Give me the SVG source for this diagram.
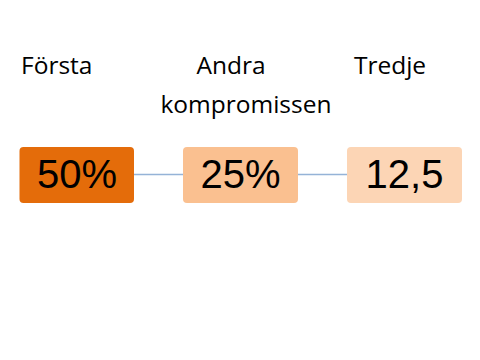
<svg xmlns="http://www.w3.org/2000/svg" width="480" height="360" viewBox="0 0 480 360">
<style>
.lbl{font-family:"Open Sans","Liberation Sans",Arial,sans-serif;font-size:24.5px;fill:#000}
.num{font-family:"Liberation Sans",Arial,sans-serif;font-size:40px;fill:#000;text-anchor:middle}
.conn{stroke:#95B3D7;stroke-width:1.5;fill:none}
</style>
<rect width="480" height="360" fill="#fff"/>
<g id="labels">
<text class="lbl" x="21" y="74">Första</text>
<text class="lbl" x="231" y="74" text-anchor="middle">Andra</text>
<text class="lbl" x="246" y="113" text-anchor="middle">kompromissen</text>
<text class="lbl" x="390" y="74" text-anchor="middle">Tredje</text>
</g>
<g id="connectors">
<line class="conn" x1="134" y1="174.5" x2="183" y2="174.5"/>
<line class="conn" x1="298" y1="174.5" x2="347" y2="174.5"/>
</g>
<g id="n1">
<rect x="19.5" y="147" width="114.5" height="56" rx="4" fill="#E46C0A"/>
<text class="num" x="77" y="188">50%</text>
</g>
<g id="n2">
<rect x="183" y="147" width="115" height="56" rx="4" fill="#FAC090"/>
<text class="num" x="240.5" y="188">25%</text>
</g>
<g id="n3">
<rect x="347" y="147" width="115" height="56" rx="4" fill="#FCD5B5"/>
<text class="num" x="404.5" y="188">12,5</text>
</g>
</svg>
